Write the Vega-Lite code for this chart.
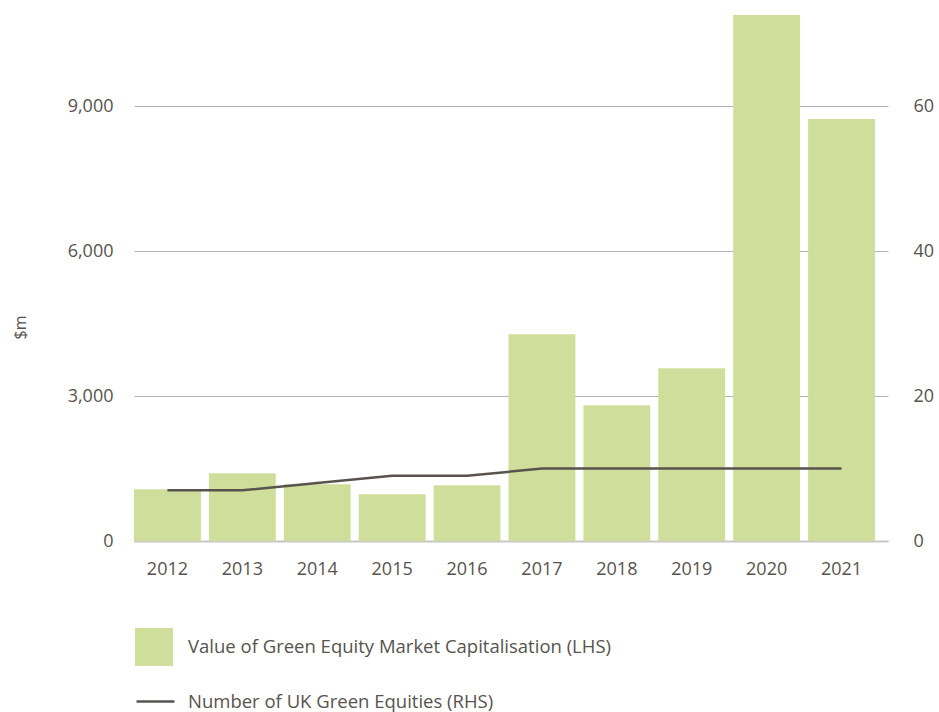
{
  "$schema": "https://vega.github.io/schema/vega-lite/v6.json",
  "autosize": {"type": "none"},
  "padding": {"left": 134, "top": 15, "right": 51, "bottom": 171},
  "width": 754,
  "height": 526,
  "background": "white",
  "config": {
    "view": {"stroke": null},
    "font": "Open Sans",
    "axis": {"labelFont": "Open Sans", "labelColor": "#57534f", "labelFontSize": 18, "titleFont": "Open Sans", "titleColor": "#57534f", "titleFontWeight": "normal"},
    "legend": {"labelFont": "Open Sans", "labelColor": "#57534f", "labelFontSize": 18.5, "labelLimit": 0}
  },
  "data": {
    "values": [
      {"year": "2012", "value": 1071, "count": 7},
      {"year": "2013", "value": 1402, "count": 7},
      {"year": "2014", "value": 1175, "count": 8},
      {"year": "2015", "value": 967, "count": 9},
      {"year": "2016", "value": 1154, "count": 9},
      {"year": "2017", "value": 4282, "count": 10},
      {"year": "2018", "value": 2811, "count": 10},
      {"year": "2019", "value": 3578, "count": 10},
      {"year": "2020", "value": 10890, "count": 10},
      {"year": "2021", "value": 8736, "count": 10}
    ]
  },
  "encoding": {
    "x": {
      "field": "year", "type": "ordinal",
      "scale": {"paddingInner": 0.107, "paddingOuter": 0.087, "align": 0},
      "axis": {"title": null, "labelAngle": 0, "ticks": false, "domain": true, "domainColor": "#c9c6c6", "domainWidth": 2, "labelPadding": 19}
    }
  },
  "layer": [
    {
      "mark": {"type": "bar"},
      "encoding": {
        "y": {
          "field": "value", "type": "quantitative",
          "scale": {"domain": [0, 10890], "nice": false},
          "axis": {"values": [0, 3000, 6000, 9000], "format": ",d", "title": "$m", "titleFontSize": 16, "titleAngle": 270, "titleX": -114, "titleY": 312, "titleAlign": "center", "titleBaseline": "middle", "grid": true, "gridColor": "#b3b1b1", "gridWidth": 1, "domain": false, "ticks": false, "labelPadding": 21}
        },
        "fill": {
          "datum": "Value of Green Equity Market Capitalisation (LHS)",
          "scale": {"range": ["#cfdf9b"]},
          "legend": {"title": null, "orient": "none", "legendX": 1, "legendY": 613, "symbolType": "square", "symbolSize": 1444, "symbolStrokeWidth": 0, "labelOffset": 15, "padding": 0, "labelLimit": 0}
        }
      }
    },
    {
      "mark": {"type": "line", "strokeWidth": 2.5},
      "encoding": {
        "y": {
          "field": "count", "type": "quantitative",
          "scale": {"domain": [0, 72.6], "nice": false},
          "axis": {"orient": "right", "values": [0, 20, 40, 60], "title": null, "grid": false, "domain": false, "ticks": false, "labelPadding": 25}
        },
        "stroke": {
          "datum": "Number of UK Green Equities (RHS)",
          "scale": {"range": ["#58534f"]},
          "legend": {"title": null, "orient": "none", "legendX": 1, "legendY": 666, "symbolType": "stroke", "symbolSize": 1444, "symbolStrokeWidth": 2.5, "labelOffset": 12, "padding": 0, "labelLimit": 0}
        }
      }
    }
  ],
  "resolve": {"scale": {"y": "independent"}}
}
